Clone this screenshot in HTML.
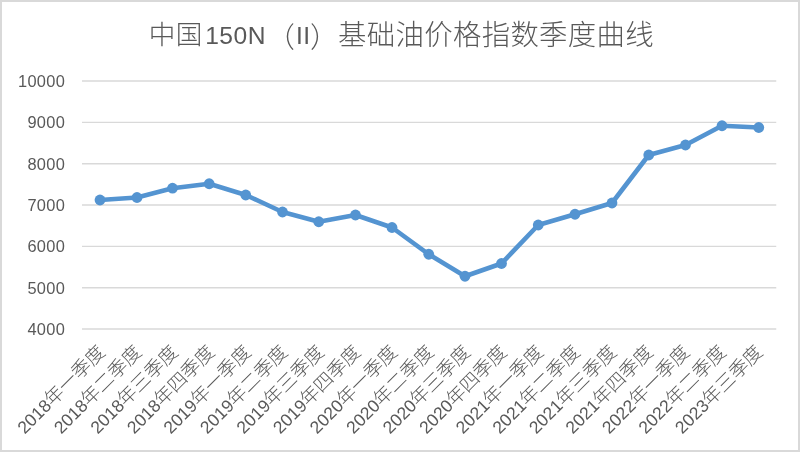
<!DOCTYPE html>
<html lang="zh-CN">
<head>
<meta charset="utf-8">
<title>中国150N（II）基础油价格指数季度曲线</title>
<style>
html,body{margin:0;padding:0;background:#fff;}
body{width:800px;height:452px;overflow:hidden;}
svg{display:block;}
.t{font-family:"Liberation Sans","Noto Sans CJK SC",sans-serif;fill:#595959;}
.c{font-family:"Liberation Sans","Noto Sans CJK SC",sans-serif;font-weight:300;}
.ax{font-size:16.4px;letter-spacing:0.3px;}
.xl{font-size:17.6px;}
.xlc{font-size:19px;}
.ti{font-size:24.6px;}
.tic{font-size:28.4px;}
</style>
</head>
<body>
<svg width="800" height="452" viewBox="0 0 800 452">
<rect x="0" y="0" width="800" height="452" fill="#ffffff"/>
<rect x="1" y="1" width="798" height="450" fill="none" stroke="#d9d9d9" stroke-width="2"/>
<g stroke="#d9d9d9" stroke-width="1.35" fill="none">
<line x1="82" y1="81" x2="776.25" y2="81"/>
<line x1="82" y1="122.3" x2="776.25" y2="122.3"/>
<line x1="82" y1="163.7" x2="776.25" y2="163.7"/>
<line x1="82" y1="205" x2="776.25" y2="205"/>
<line x1="82" y1="246.4" x2="776.25" y2="246.4"/>
<line x1="82" y1="287.7" x2="776.25" y2="287.7"/>
<line x1="82" y1="329" x2="776.25" y2="329"/>
</g>
<g class="t ax" text-anchor="end">
<text x="65.1" y="86.9">10000</text>
<text x="65.1" y="128.2">9000</text>
<text x="65.1" y="169.6">8000</text>
<text x="65.1" y="210.9">7000</text>
<text x="65.1" y="252.3">6000</text>
<text x="65.1" y="293.6">5000</text>
<text x="65.1" y="334.9">4000</text>
</g>
<g class="t ti">
<text class="c tic" x="148.8" y="44.4" style="font-size:26.6px;letter-spacing:0.4px">中国</text>
<text x="205.2" y="43.8" style="letter-spacing:0.5px">150N</text>
<text class="c tic" x="266.5" y="47.8">（</text>
<text x="295.9" y="43.8" style="letter-spacing:0.5px">II</text>
<text class="c tic" x="310" y="47.8">）</text>
<text class="c tic" x="338" y="45" style="letter-spacing:0.34px">基础油价格指数季度曲线</text>
</g>
<g class="t xl" text-anchor="end">
<text transform="translate(106.1,353.2) rotate(-45)">2018<tspan class="c xlc">年一季度</tspan></text>
<text transform="translate(142.6,353.2) rotate(-45)">2018<tspan class="c xlc">年二季度</tspan></text>
<text transform="translate(179.1,353.2) rotate(-45)">2018<tspan class="c xlc">年三季度</tspan></text>
<text transform="translate(215.7,353.2) rotate(-45)">2018<tspan class="c xlc">年四季度</tspan></text>
<text transform="translate(252.2,353.2) rotate(-45)">2019<tspan class="c xlc">年一季度</tspan></text>
<text transform="translate(288.8,353.2) rotate(-45)">2019<tspan class="c xlc">年二季度</tspan></text>
<text transform="translate(325.3,353.2) rotate(-45)">2019<tspan class="c xlc">年三季度</tspan></text>
<text transform="translate(361.8,353.2) rotate(-45)">2019<tspan class="c xlc">年四季度</tspan></text>
<text transform="translate(398.4,353.2) rotate(-45)">2020<tspan class="c xlc">年一季度</tspan></text>
<text transform="translate(434.9,353.2) rotate(-45)">2020<tspan class="c xlc">年二季度</tspan></text>
<text transform="translate(471.5,353.2) rotate(-45)">2020<tspan class="c xlc">年三季度</tspan></text>
<text transform="translate(508.0,353.2) rotate(-45)">2020<tspan class="c xlc">年四季度</tspan></text>
<text transform="translate(544.5,353.2) rotate(-45)">2021<tspan class="c xlc">年一季度</tspan></text>
<text transform="translate(581.1,353.2) rotate(-45)">2021<tspan class="c xlc">年二季度</tspan></text>
<text transform="translate(617.6,353.2) rotate(-45)">2021<tspan class="c xlc">年三季度</tspan></text>
<text transform="translate(654.2,353.2) rotate(-45)">2021<tspan class="c xlc">年四季度</tspan></text>
<text transform="translate(690.7,353.2) rotate(-45)">2022<tspan class="c xlc">年一季度</tspan></text>
<text transform="translate(727.2,353.2) rotate(-45)">2022<tspan class="c xlc">年二季度</tspan></text>
<text transform="translate(763.8,353.2) rotate(-45)">2023<tspan class="c xlc">年三季度</tspan></text>
</g>
<path d="M100.00 200.00 L137.00 197.50 L172.50 188.20 L209.20 183.75 L245.75 195.00 L282.50 212.00 L318.75 221.75 L355.50 215.00 L392.00 227.50 L428.75 254.25 L465.00 276.25 L501.50 263.50 L538.25 225.00 L575.00 214.25 L612.00 203.00 L648.75 155.00 L685.50 145.00 L722.00 125.75 L758.75 127.50" fill="none" stroke="#5494d1" stroke-width="4.6" stroke-linejoin="round" stroke-linecap="round"/>
<g fill="#5494d1">
<circle cx="100.00" cy="200.00" r="5.4"/>
<circle cx="137.00" cy="197.50" r="5.4"/>
<circle cx="172.50" cy="188.20" r="5.4"/>
<circle cx="209.20" cy="183.75" r="5.4"/>
<circle cx="245.75" cy="195.00" r="5.4"/>
<circle cx="282.50" cy="212.00" r="5.4"/>
<circle cx="318.75" cy="221.75" r="5.4"/>
<circle cx="355.50" cy="215.00" r="5.4"/>
<circle cx="392.00" cy="227.50" r="5.4"/>
<circle cx="428.75" cy="254.25" r="5.4"/>
<circle cx="465.00" cy="276.25" r="5.4"/>
<circle cx="501.50" cy="263.50" r="5.4"/>
<circle cx="538.25" cy="225.00" r="5.4"/>
<circle cx="575.00" cy="214.25" r="5.4"/>
<circle cx="612.00" cy="203.00" r="5.4"/>
<circle cx="648.75" cy="155.00" r="5.4"/>
<circle cx="685.50" cy="145.00" r="5.4"/>
<circle cx="722.00" cy="125.75" r="5.4"/>
<circle cx="758.75" cy="127.50" r="5.4"/>
</g>
</svg>
</body>
</html>
